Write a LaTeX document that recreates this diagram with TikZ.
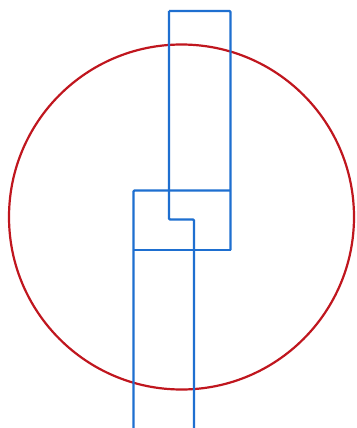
\documentclass[tikz,border=0pt]{standalone}
\usetikzlibrary{calc}
\definecolor{bl}{HTML}{1E6FD0}
\definecolor{rd}{HTML}{C0161E}
\begin{document}
\begin{tikzpicture}[x=1pt,y=-1pt,
  blueline/.style={draw=bl,line width=2.3pt,line join=round,rounded corners=1pt},
  redline/.style={draw=rd,line width=2.2pt}]
\useasboundingbox (0,0) rectangle (356,428);
\fill[white] (0,0) rectangle (356,428);
\draw[redline] (181.5,217) circle (172.5);
\draw[blueline] (169,11) -- (230.5,11) -- (230.5,250);
\draw[blueline] (169,11) -- (169,219.5) -- (194,219.5) -- (194,430);
\draw[blueline] (133.5,430) -- (133.5,190.5) -- (230.5,190.5);
\draw[blueline] (133.5,250) -- (230.5,250);
\end{tikzpicture}
\end{document}
